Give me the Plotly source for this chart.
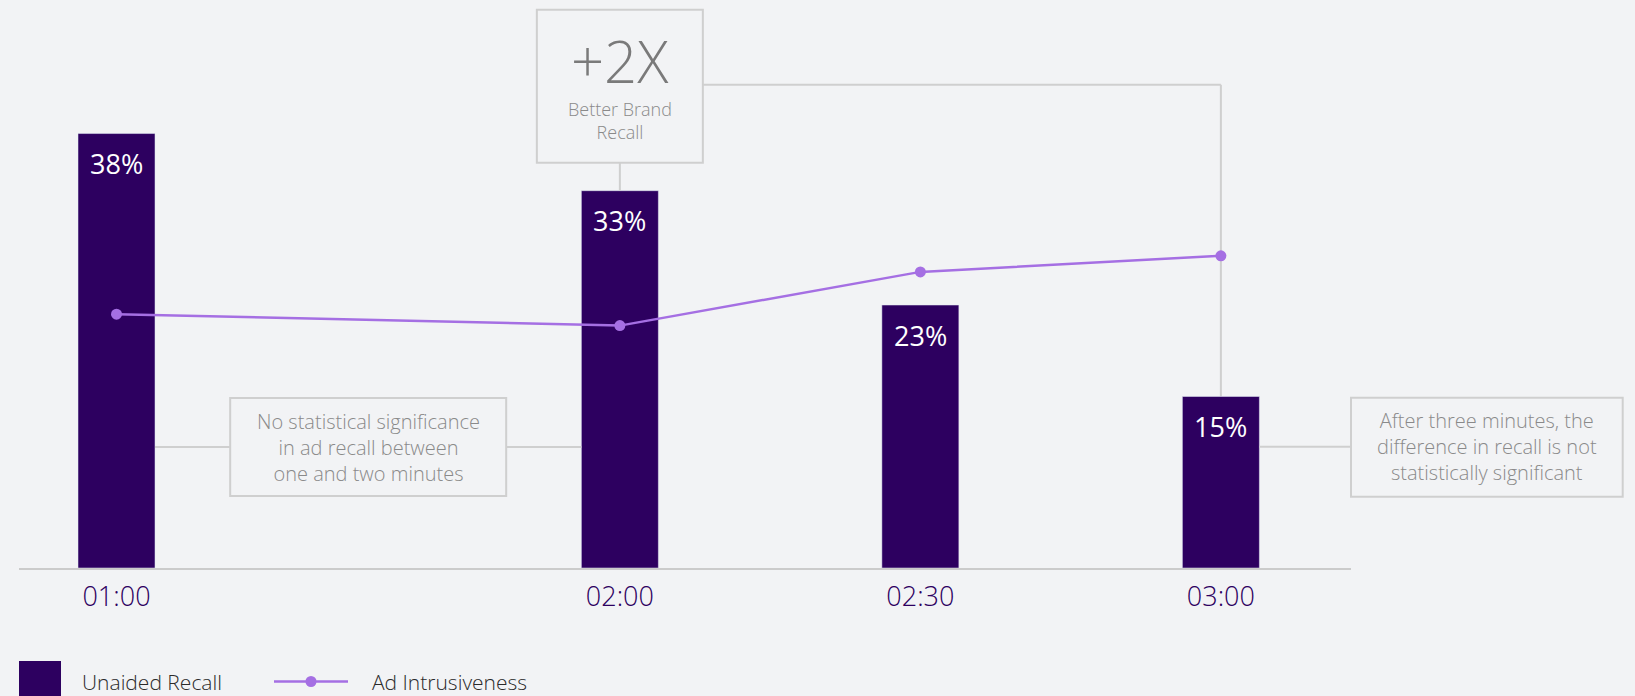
import plotly.graph_objects as go

# ---------------- data ----------------
categories = ["01:00", "02:00", "02:30", "03:00"]
x_pos = [1.0, 2.675, 3.675, 4.675]          # category positions on the axis
unaided_recall = [38, 33, 23, 15]           # %
ad_intrusiveness = [22.2, 21.2, 25.9, 27.3]  # index (same scale as chart)
recall_labels = ["38%", "33%", "23%", "15%"]

box2_lines = ["No statistical significance", "in ad recall between", "one and two minutes"]
box3_lines = ["After three minutes, the", "difference in recall is not", "statistically significant"]

# ---------------- layout constants ----------------
W, H = 1635, 696
ML, MR, MT, MB = 19, 284, 8, 128
PLOT_W, PLOT_H = W - ML - MR, H - MT - MB
XR = [0.6755, 5.108]
YR = [0, 48.98]
PX_X = PLOT_W / (XR[1] - XR[0])
PX_Y = PLOT_H / (YR[1] - YR[0])
BAR_W = 77 / PX_X

FONT = "'Open Sans', Lato, sans-serif"
BG = "#f2f3f5"
BAR_C = "#2d0060"
LINE_C = "#a56fe3"
BOX_C = "#cfcfcf"
TXT_C = "#8a8a8a"
BOX_FS = 20

def y_from_px(py):
    return (MT + PLOT_H - py) / PX_Y

def px_dx(px):
    return px / PX_X

def py_paper(py):
    return (MT + PLOT_H - py) / PLOT_H

def px_paper(px):
    return (px - ML) / PLOT_W

fig = go.Figure()
fig.add_trace(go.Bar(
    x=x_pos, y=unaided_recall, width=BAR_W, marker_color=BAR_C,
    name="Unaided Recall", hoverinfo="skip", showlegend=False,
))
fig.add_trace(go.Scatter(
    x=x_pos, y=ad_intrusiveness, mode="lines+markers", name="Ad Intrusiveness",
    line=dict(color=LINE_C, width=2.5), marker=dict(color=LINE_C, size=11),
    showlegend=False,
))

shapes = []
annotations = []

# bar value labels
for xp, v, lab in zip(x_pos, unaided_recall, recall_labels):
    annotations.append(dict(x=xp, y=v, xref="x", yref="y", text=lab, showarrow=False,
                            yanchor="middle", yshift=-30,
                            font=dict(family=FONT, size=27, color="white", weight=400)))

def text_block(lines, x, y, xref, yref, size=BOX_FS):
    annotations.append(dict(x=x, y=y, xref=xref, yref=yref, text="<br>".join(lines),
                            showarrow=False, xanchor="center", yanchor="middle", align="center",
                            font=dict(family=FONT, size=size, color=TXT_C, weight=300)))

# ---- box 1: +2X Better Brand Recall (above 02:00) ----
shapes.append(dict(type="rect", xref="x", yref="y", xsizemode="pixel", ysizemode="pixel",
                   xanchor=x_pos[1], yanchor=unaided_recall[1], x0=-83, x1=83, y0=28, y1=181,
                   line=dict(color=BOX_C, width=2)))
shapes.append(dict(type="line", xref="x", yref="y", xsizemode="pixel", ysizemode="pixel",
                   xanchor=x_pos[1], yanchor=unaided_recall[1], x0=0, x1=0, y0=0, y1=28,
                   line=dict(color=BOX_C, width=2)))
conn_y = y_from_px(84.7)
shapes.append(dict(type="line", xref="x", yref="y", x0=x_pos[1] + px_dx(83), x1=x_pos[3],
                   y0=conn_y, y1=conn_y, line=dict(color=BOX_C, width=2)))
shapes.append(dict(type="line", xref="x", yref="y", x0=x_pos[3], x1=x_pos[3],
                   y0=unaided_recall[3], y1=conn_y, line=dict(color=BOX_C, width=2), layer="below"))
annotations.append(dict(x=x_pos[1], y=unaided_recall[1], xref="x", yref="y", text="+2X",
                        showarrow=False, yanchor="middle", yshift=191 - 61,
                        font=dict(family=FONT, size=58, color="#7a7a7a", weight=300)))
annotations.append(dict(x=x_pos[1], y=unaided_recall[1], xref="x", yref="y",
                        text="Better Brand<br>Recall", showarrow=False, yanchor="middle",
                        align="center", yshift=191 - 121,
                        font=dict(family=FONT, size=18, color=TXT_C, weight=300)))

# ---- box 2: between 01:00 and 02:00 ----
mid12 = (x_pos[0] + x_pos[1]) / 2
b2_y = y_from_px(447)
shapes.append(dict(type="rect", xref="x", yref="y", xsizemode="pixel", ysizemode="pixel",
                   xanchor=mid12, yanchor=b2_y, x0=-138, x1=138, y0=-49, y1=49,
                   line=dict(color=BOX_C, width=2)))
shapes.append(dict(type="line", xref="x", yref="y", x0=x_pos[0] + BAR_W / 2, x1=mid12 - px_dx(138),
                   y0=b2_y, y1=b2_y, line=dict(color=BOX_C, width=2)))
shapes.append(dict(type="line", xref="x", yref="y", x0=mid12 + px_dx(138), x1=x_pos[1] - BAR_W / 2,
                   y0=b2_y, y1=b2_y, line=dict(color=BOX_C, width=2)))
text_block(box2_lines, mid12, b2_y, "x", "y")

# ---- box 3: right of 03:00 ----
b3_y = y_from_px(446.7)
shapes.append(dict(type="line", xref="x", yref="y", x0=x_pos[3] + BAR_W / 2, x1=XR[1],
                   y0=b3_y, y1=b3_y, line=dict(color=BOX_C, width=2)))
shapes.append(dict(type="rect", xref="paper", yref="paper",
                   x0=1.0, x1=px_paper(1622.7),
                   y0=py_paper(496.7), y1=py_paper(397.7),
                   line=dict(color=BOX_C, width=2)))
text_block(box3_lines, px_paper(1486.9), py_paper(446.0), "paper", "paper")

# ---- custom legend ----
shapes.append(dict(type="rect", xref="paper", yref="paper", x0=px_paper(19), x1=px_paper(61),
                   y0=py_paper(661), y1=py_paper(700), fillcolor=BAR_C, line=dict(width=0)))
annotations.append(dict(x=px_paper(80), y=py_paper(681.5), xref="paper", yref="paper",
                        text="Unaided Recall", showarrow=False, xanchor="left", yanchor="middle",
                        font=dict(family=FONT, size=21, color="#2a2a2a", weight=300)))
shapes.append(dict(type="line", xref="paper", yref="paper", x0=px_paper(274), x1=px_paper(348),
                   y0=py_paper(681.5), y1=py_paper(681.5), line=dict(color=LINE_C, width=2.5)))
shapes.append(dict(type="circle", xref="paper", yref="paper", xsizemode="pixel", ysizemode="pixel",
                   xanchor=px_paper(311), yanchor=py_paper(681.5), x0=-5.5, x1=5.5, y0=-5.5, y1=5.5,
                   fillcolor=LINE_C, line=dict(width=0)))
annotations.append(dict(x=px_paper(370), y=py_paper(681.5), xref="paper", yref="paper",
                        text="Ad Intrusiveness", showarrow=False, xanchor="left", yanchor="middle",
                        font=dict(family=FONT, size=21, color="#2a2a2a", weight=300)))

fig.update_layout(
    width=W, height=H,
    margin=dict(l=ML, r=MR, t=MT, b=MB, pad=0),
    paper_bgcolor=BG, plot_bgcolor=BG,
    showlegend=False,
    shapes=shapes, annotations=annotations,
    font=dict(family=FONT),
    xaxis=dict(range=XR, tickvals=x_pos, ticktext=categories, showgrid=False, zeroline=False,
               showline=True, linecolor="#cbcbcb", linewidth=2,
               ticks="outside", ticklen=4, tickcolor=BG,
               tickfont=dict(family=FONT, size=27, color=BAR_C, weight=300)),
    yaxis=dict(range=YR, visible=False),
)

fig.write_html("out.html")
